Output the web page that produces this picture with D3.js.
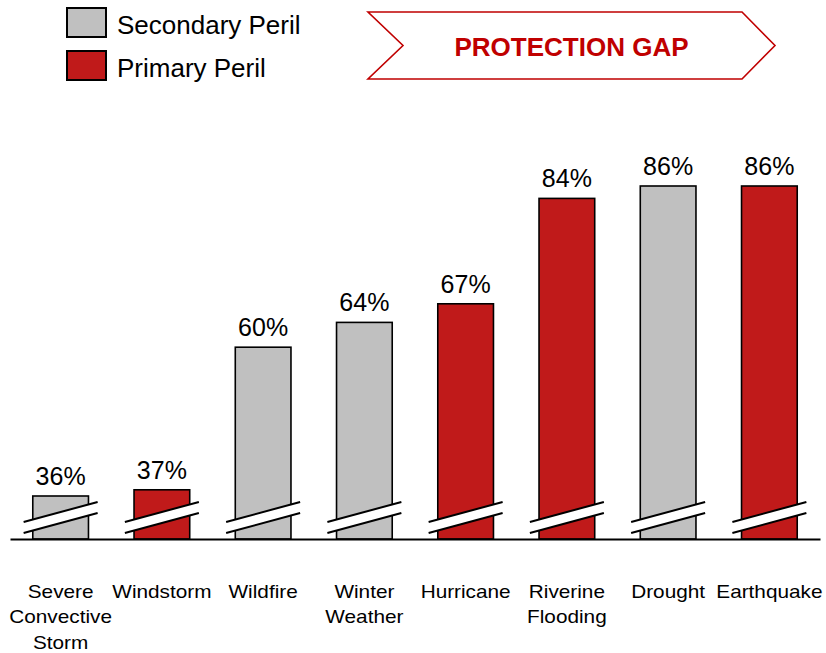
<!DOCTYPE html>
<html>
<head>
<meta charset="utf-8">
<script src="https://cdn.jsdelivr.net/npm/d3@7"></script>
<style>
  html, body { margin: 0; padding: 0; background: #fff; }
  svg { display: block; font-family: "Liberation Sans", Arial, sans-serif; }
</style>
</head>
<body>
<svg id="chart" width="826" height="653"></svg>
<script>
const categories = ["Severe\nConvective\nStorm", "Windstorm", "Wildfire", "Winter\nWeather", "Hurricane", "Riverine\nFlooding", "Drought", "Earthquake"];
const values = [36, 37, 60, 64, 67, 84, 86, 86];
const perilTypes = ["Secondary", "Primary", "Secondary", "Secondary", "Primary", "Primary", "Secondary", "Primary"];
const legendLabels = ["Secondary Peril", "Primary Peril"];
const legendTypes = ["Secondary", "Primary"];
const bannerText = "PROTECTION GAP";

const colors = { Secondary: "#c0c0c0", Primary: "#c01a1a" };
const bannerRed = "#c00000";

const svg = d3.select("#chart");
const W = 826, H = 653;
const axisY = 539;

const x = d3.scaleBand().domain(categories).range([10, 820]).paddingInner(0.45).paddingOuter(0.225);
const y = d3.scaleLinear().domain([0, 100]).range([719.2, 99.2]);

const data = categories.map((c, i) => ({ cat: c, value: values[i], type: perilTypes[i] }));

// Bars
const g = svg.append("g");
g.selectAll("rect.bar").data(data).enter().append("rect")
  .attr("class", "bar")
  .attr("x", d => x(d.cat))
  .attr("y", d => y(d.value))
  .attr("width", x.bandwidth())
  .attr("height", d => axisY - y(d.value))
  .attr("fill", d => colors[d.type])
  .attr("stroke", "#000")
  .attr("stroke-width", 1.6);

// Break marks
const half = 37;
const breaks = g.selectAll("g.brk").data(data).enter().append("g").attr("class", "brk")
  .attr("transform", d => `translate(${x(d.cat) + x.bandwidth() / 2},0)`);
breaks.append("path")
  .attr("d", `M${-half},522 L${half},502 L${half},513 L${-half},533 Z`)
  .attr("fill", "#fff");
breaks.append("line").attr("x1", -half).attr("y1", 522).attr("x2", half).attr("y2", 502)
  .attr("stroke", "#000").attr("stroke-width", 2);
breaks.append("line").attr("x1", -half).attr("y1", 533).attr("x2", half).attr("y2", 513)
  .attr("stroke", "#000").attr("stroke-width", 2);

// Axis baseline
const xAxis = d3.axisBottom(x).tickSize(0).tickFormat("");
const axG = svg.append("g").attr("transform", `translate(0,${axisY})`).call(xAxis);
axG.select(".domain").attr("stroke", "#000").attr("stroke-width", 2);

// Value labels
g.selectAll("text.val").data(data).enter().append("text")
  .attr("class", "val")
  .attr("x", d => x(d.cat) + x.bandwidth() / 2)
  .attr("y", d => y(d.value) - 11)
  .attr("text-anchor", "middle")
  .attr("font-size", 25)
  .attr("fill", "#000")
  .text(d => d.value + "%");

// Category labels (slightly wide)
const catG = svg.selectAll("g.cat").data(data).enter().append("g").attr("class", "cat")
  .attr("transform", d => `translate(${x(d.cat) + x.bandwidth() / 2},598) scale(1.18,1)`);
catG.each(function(d) {
  const lines = d.cat.split("\n");
  const t = d3.select(this).append("text")
    .attr("text-anchor", "middle")
    .attr("font-size", 17.6)
    .attr("fill", "#000");
  lines.forEach((ln, k) => {
    t.append("tspan").attr("x", 0).attr("y", k * 25.5).text(ln);
  });
});

// Legend
const leg = svg.selectAll("g.leg").data(legendLabels).enter().append("g").attr("class", "leg")
  .attr("transform", (d, i) => `translate(67,${8 + i * 43})`);
leg.append("rect").attr("width", 39).attr("height", 29)
  .attr("fill", (d, i) => colors[legendTypes[i]])
  .attr("stroke", "#000").attr("stroke-width", 2);
leg.append("text").attr("x", 50).attr("y", 26)
  .attr("font-size", 26).attr("fill", "#000").text(d => d);

// Banner arrow
const bx0 = 368, bx1 = 742, btip = 775, by0 = 12, by1 = 79, bnotch = 403;
const bmid = (by0 + by1) / 2;
svg.append("path")
  .attr("d", `M${bx0},${by0} L${bx1},${by0} L${btip},${bmid} L${bx1},${by1} L${bx0},${by1} L${bnotch},${bmid} Z`)
  .attr("fill", "#fff").attr("stroke", bannerRed).attr("stroke-width", 1.6);
svg.append("text")
  .attr("x", 571.5).attr("y", 56)
  .attr("text-anchor", "middle")
  .attr("font-size", 26).attr("font-weight", "bold")
  .attr("fill", bannerRed)
  .text(bannerText);
</script>
</body>
</html>
